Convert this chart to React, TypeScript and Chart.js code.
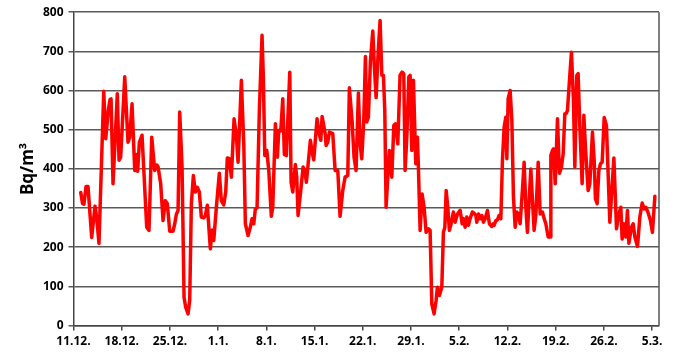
import React, { useEffect, useRef } from "react";
import { Chart, registerables } from "chart.js";

Chart.register(...registerables);

// Tick labels (weekly) and their positions in days since 11.12.
const weekLabels = ["11.12.", "18.12.", "25.12.", "1.1.", "8.1.", "15.1.", "22.1.", "29.1.", "5.2.", "12.2.", "19.2.", "26.2.", "5.3."];
const weekTickDays = [0, 7, 14, 21, 28, 35, 42, 49, 56, 63, 70, 77, 84];

// Measurement times (days since 11.12.)
const days = [
  1.05, 1.31, 1.52, 1.82, 2.11, 2.64, 3.12, 3.34, 3.70, 4.39, 4.68, 5.05, 5.30, 5.45, 5.74, 6.36, 6.61, 6.85, 7.44, 7.91,
  8.16, 8.50, 8.89, 9.12, 9.32, 9.56, 9.95, 10.63, 10.96, 11.36, 11.79, 12.08, 12.27, 12.66, 13.00, 13.33, 13.62, 13.97, 14.45, 14.70,
  14.93, 15.18, 15.42, 15.76, 16.05, 16.29, 16.63, 16.87, 17.11, 17.40, 17.69, 17.98, 18.27, 18.56, 18.91, 19.14, 19.43, 19.68, 19.87, 20.11,
  20.36, 20.74, 21.17, 21.46, 21.81, 22.10, 22.33, 22.63, 22.92, 23.31, 23.64, 23.89, 24.14, 24.37, 24.72, 24.95, 25.34, 25.67, 25.92, 26.17,
  26.40, 26.65, 26.98, 27.37, 27.56, 27.77, 28.06, 28.35, 28.72, 28.93, 29.31, 29.60, 29.80, 30.09, 30.38, 30.61, 30.90, 31.40, 31.59, 31.83,
  32.21, 32.41, 32.60, 32.99, 33.33, 33.57, 33.81, 34.39, 34.64, 34.88, 35.36, 35.61, 35.90, 36.09, 36.33, 36.57, 36.67, 36.92, 37.15, 37.64,
  37.98, 38.37, 38.70, 39.09, 39.43, 39.82, 40.05, 40.44, 40.73, 41.02, 41.36, 41.61, 41.85, 42.14, 42.38, 42.58, 42.81, 43.10, 43.45, 43.68,
  43.93, 44.22, 44.51, 44.76, 44.99, 45.19, 45.38, 45.63, 45.86, 46.21, 46.50, 46.73, 47.08, 47.41, 47.70, 47.95, 48.14, 48.39, 48.68, 48.87,
  49.11, 49.35, 49.69, 49.93, 50.07, 50.32, 50.61, 50.90, 51.19, 51.52, 51.77, 52.02, 52.35, 52.64, 52.83, 53.12, 53.47, 53.70, 53.91, 54.10,
  54.34, 54.57, 54.82, 55.15, 55.40, 55.74, 56.13, 56.42, 56.61, 56.85, 57.10, 57.33, 57.58, 57.91, 58.16, 58.41, 58.55, 58.79, 59.03, 59.28,
  59.51, 59.76, 60.09, 60.38, 60.73, 60.96, 61.06, 61.31, 61.54, 61.79, 62.04, 62.27, 62.52, 62.76, 62.91, 63.10, 63.39, 63.64, 63.87, 64.12,
  64.36, 64.59, 64.84, 65.17, 65.42, 65.67, 65.90, 66.39, 66.87, 67.12, 67.46, 67.75, 68.08, 68.33, 68.57, 68.91, 69.20, 69.30, 69.53, 69.68,
  69.93, 70.26, 70.55, 70.84, 71.09, 71.33, 71.52, 71.71, 72.00, 72.29, 72.58, 72.78, 73.07, 73.26, 73.51, 73.84, 74.09, 74.32, 74.71, 74.96,
  75.34, 75.59, 75.77, 76.02, 76.27, 76.50, 76.75, 77.04, 77.37, 77.86, 78.45, 78.83, 79.17, 79.46, 79.65, 79.90, 80.19, 80.42, 80.63, 81.00,
  81.25, 81.50, 81.88, 82.22, 82.56, 82.85, 83.10, 83.38, 83.76, 84.05, 84.40,
];

// Radon concentration (Bq/m3)
const radon = [
  340, 312, 310, 355, 355, 225, 305, 280, 210, 598, 477, 549, 577, 579, 362, 592, 422, 430, 635, 468,
  481, 566, 396, 437, 394, 468, 486, 251, 243, 481, 396, 410, 406, 362, 268, 319, 311, 241, 241, 260,
  284, 294, 545, 405, 72, 47, 30, 64, 311, 383, 341, 353, 341, 277, 275, 281, 307, 243, 196, 244,
  217, 302, 389, 319, 308, 341, 428, 426, 379, 528, 486, 417, 524, 626, 464, 260, 230, 251, 273, 260,
  298, 301, 549, 741, 635, 434, 447, 396, 279, 302, 515, 430, 498, 497, 579, 437, 434, 647, 366, 341,
  411, 379, 281, 345, 405, 396, 366, 473, 443, 423, 528, 494, 473, 534, 511, 486, 460, 468, 494, 490,
  396, 396, 279, 345, 379, 383, 607, 524, 430, 396, 594, 464, 426, 524, 687, 520, 532, 673, 752, 660,
  582, 694, 779, 639, 639, 549, 302, 379, 447, 379, 511, 515, 464, 639, 647, 643, 396, 481, 635, 639,
  447, 626, 413, 481, 405, 243, 336, 302, 238, 247, 243, 55, 30, 64, 98, 77, 98, 238, 251, 345,
  302, 243, 260, 290, 264, 285, 294, 260, 273, 251, 277, 256, 273, 290, 287, 281, 264, 285, 273, 281,
  264, 273, 294, 260, 253, 260, 256, 268, 270, 281, 273, 422, 507, 532, 426, 579, 600, 524, 328, 251,
  290, 285, 260, 345, 417, 302, 238, 400, 243, 281, 417, 285, 290, 273, 260, 226, 226, 434, 447, 451,
  362, 528, 389, 405, 439, 541, 541, 549, 626, 698, 575, 405, 639, 643, 507, 362, 537, 456, 345, 362,
  494, 422, 324, 311, 396, 413, 417, 531, 511, 264, 428, 247, 285, 302, 221, 260, 226, 294, 210, 251,
  260, 226, 202, 277, 313, 298, 302, 290, 268, 238, 330,
];

const FONT = "'Open Sans', 'DejaVu Sans', sans-serif";

const rightBorder = {
  id: "rightBorder",
  beforeDatasetsDraw(chart: any) {
    const { ctx, chartArea } = chart;
    ctx.save();
    ctx.strokeStyle = "#555";
    ctx.lineWidth = 1.5;
    ctx.beginPath();
    ctx.moveTo(chartArea.right, chartArea.top);
    ctx.lineTo(chartArea.right, chartArea.bottom);
    ctx.stroke();
    ctx.restore();
  },
};

export default function App() {
  const ref = useRef<HTMLCanvasElement | null>(null);

  useEffect(() => {
    if (!ref.current) return;
    const chart = new Chart(ref.current, {
      type: "line",
      data: {
        datasets: [
          {
            data: days.map((d, i) => ({ x: d, y: radon[i] })),
            borderColor: "#ff0000",
            backgroundColor: "#ff0000",
            borderWidth: 3.5,
            borderJoinStyle: "round",
            borderCapStyle: "round",
            pointRadius: 0,
            tension: 0,
            fill: false,
          },
        ],
      },
      options: {
        animation: false,
        responsive: false,
        maintainAspectRatio: false,
        layout: { padding: { left: 18, right: 21, top: 12, bottom: 11 } },
        plugins: {
          legend: { display: false },
          tooltip: { enabled: false },
        },
        scales: {
          x: {
            type: "linear",
            min: 0,
            max: 85,
            afterBuildTicks: (s: any) => {
              s.ticks = weekTickDays.map((v) => ({ value: v }));
            },
            ticks: {
              autoSkip: false,
              maxRotation: 0,
              padding: 4,
              color: "#000",
              font: { family: FONT, size: 12, weight: "bold" },
              callback: (_v: any, i: number) => weekLabels[i],
            },
            grid: {
              display: true,
              drawOnChartArea: false,
              drawTicks: true,
              tickLength: 5,
              color: "#444",
              lineWidth: 1.5,
            },
            border: { display: true, color: "#444", width: 1.5 },
          },
          y: {
            min: 0,
            max: 800,
            afterFit: (s: any) => {
              s.width = 55.5;
            },
            ticks: {
              stepSize: 100,
              padding: 5,
              color: "#000",
              font: { family: FONT, size: 12, weight: "bold" },
            },
            grid: {
              color: "#5a5a5a",
              lineWidth: 1.5,
              tickLength: 5,
              drawTicks: true,
            },
            border: { display: true, color: "#444", width: 1.5 },
            title: {
              display: true,
              text: "Bq/m³",
              color: "#000",
              font: { family: FONT, size: 17, weight: "bold" },
              padding: { top: 0, bottom: 0 },
            },
          },
        },
      },
      plugins: [rightBorder],
    });
    return () => chart.destroy();
  }, []);

  return (
    <canvas
      ref={ref}
      width={680}
      height={364}
      style={{ position: "absolute", left: 0, top: 0, width: 680, height: 364 }}
    />
  );
}
